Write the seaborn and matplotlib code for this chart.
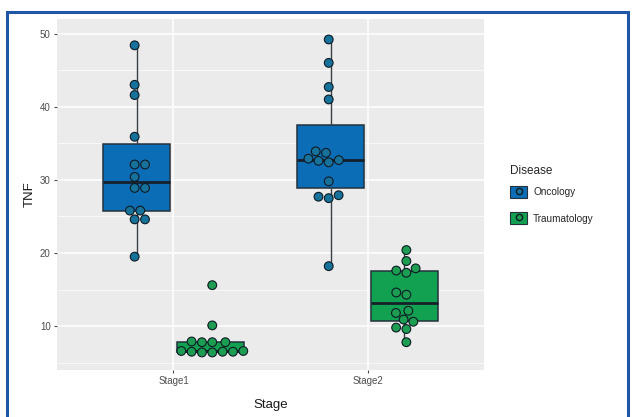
import numpy as np
import pandas as pd
import matplotlib
matplotlib.use("Agg")
import matplotlib.pyplot as plt
import seaborn as sns
from matplotlib.patches import Patch, Rectangle
from matplotlib.lines import Line2D
from matplotlib.legend_handler import HandlerTuple
from matplotlib.ticker import MultipleLocator

# TNF measurements per stage and disease group
stages = ["Stage1", "Stage2"]
diseases = ["Oncology", "Traumatology"]
tnf_stage1_oncology = [48.4, 43.0, 41.6, 35.9, 32.1, 32.1, 30.4, 28.9, 28.9,
                       25.8, 25.8, 24.6, 24.6, 19.5]
tnf_stage2_oncology = [49.2, 46.0, 42.7, 41.0, 33.9, 33.7, 32.9, 32.7, 32.6,
                       32.4, 29.8, 27.9, 27.7, 27.5, 18.2]
tnf_stage1_trauma = [15.6, 10.1, 7.9, 7.8, 7.8, 7.8, 6.6, 6.6, 6.5, 6.5,
                     6.5, 6.4, 6.4]
tnf_stage2_trauma = [20.4, 18.9, 17.9, 17.6, 17.3, 14.6, 14.3, 12.1, 11.8,
                     10.9, 10.6, 9.8, 9.6, 7.8]
y_ticks = [10, 20, 30, 40, 50]

groups = [
    ("Stage1", "Oncology", tnf_stage1_oncology),
    ("Stage2", "Oncology", tnf_stage2_oncology),
    ("Stage1", "Traumatology", tnf_stage1_trauma),
    ("Stage2", "Traumatology", tnf_stage2_trauma),
]
df = pd.concat(
    [pd.DataFrame({"Stage": s, "Disease": d, "TNF": v}) for s, d, v in groups],
    ignore_index=True,
)

box_colors = ["#0b6db5", "#11a150"]
dot_colors = ["#16729a", "#1c9d52"]
edge_dark = "#24313d"

sns.set_theme(style="darkgrid", rc={
    "axes.facecolor": "#EBEBEB",
    "grid.color": "white",
    "axes.edgecolor": "#EBEBEB",
})
plt.rcParams["font.family"] = ["Liberation Sans", "DejaVu Sans"]

fig = plt.figure(figsize=(6.32, 4.17), dpi=100)
ax = fig.add_axes([57 / 632, 1 - 370 / 417, (484 - 57) / 632, (370 - 19) / 417])
ax.set_ylim(4.0, 52.0)
ax.set_xlim(-0.6, 1.6)

sns.boxplot(
    data=df, x="Stage", y="TNF", hue="Disease", order=stages,
    hue_order=diseases, palette=box_colors, saturation=1,
    width=0.76, gap=0.1, whis=1.6, linecolor=edge_dark, linewidth=1.1,
    showcaps=False,
    flierprops=dict(marker="o", markersize=3, markerfacecolor="#111111",
                    markeredgecolor="#111111"),
    medianprops=dict(color="#16202a", linewidth=2.0),
    whiskerprops=dict(color="#3a3f44", linewidth=1.0),
    legend=False, ax=ax,
)
sns.swarmplot(
    data=df, x="Stage", y="TNF", hue="Disease", order=stages,
    hue_order=diseases, dodge=True, palette=dot_colors, size=6.3,
    edgecolor="#0d1a24", linewidth=0.8, legend=False, ax=ax,
)

ax.set_xlim(-0.6, 1.6)
ax.set_ylim(4.0, 52.0)
ax.set_yticks(y_ticks)
ax.yaxis.set_minor_locator(MultipleLocator(5))
ax.grid(which="major", color="white", linewidth=1.1)
ax.grid(which="minor", axis="y", color="white", linewidth=0.5)
ax.set_axisbelow(True)
for sp in ax.spines.values():
    sp.set_visible(False)

ax.tick_params(axis="both", which="major", length=2.5, width=0.8,
               color="#4d4d4d", labelcolor="#4d4d4d", labelsize=7, pad=2,
               bottom=True, left=True)
ax.tick_params(axis="both", which="minor", length=0)
ax.set_xlabel("Stage", fontsize=9.5, color="#1a1a1a", labelpad=9)
ax.set_ylabel("TNF", fontsize=9.5, color="#1a1a1a", labelpad=3)

handles = [
    (Patch(facecolor=box_colors[i], edgecolor=edge_dark, linewidth=0.8),
     Line2D([], [], marker="o", linestyle="", markersize=4.5,
            markerfacecolor=dot_colors[i], markeredgecolor="#0d1a24"))
    for i in range(len(diseases))
]
leg = fig.legend(
    handles, diseases, title="Disease", loc="upper left",
    bbox_to_anchor=(506 / 632, 1 - 161 / 417), frameon=False,
    handler_map={tuple: HandlerTuple(ndivide=1)},
    fontsize=7.2, title_fontsize=8.5, handlelength=1.7, handleheight=1.5,
    labelspacing=1.4, handletextpad=0.6, borderaxespad=0,
)
leg._legend_box.align = "left"
leg._legend_box.sep = 6.5

fig.patches.append(Rectangle(
    (7 / 632, -0.02), (628 - 7) / 632, 1 - 12 / 417 + 0.02,
    transform=fig.transFigure, fill=False, edgecolor="#1d57a6",
    linewidth=2.2, zorder=10,
))

fig.savefig("out.png", dpi=100, facecolor="white")
